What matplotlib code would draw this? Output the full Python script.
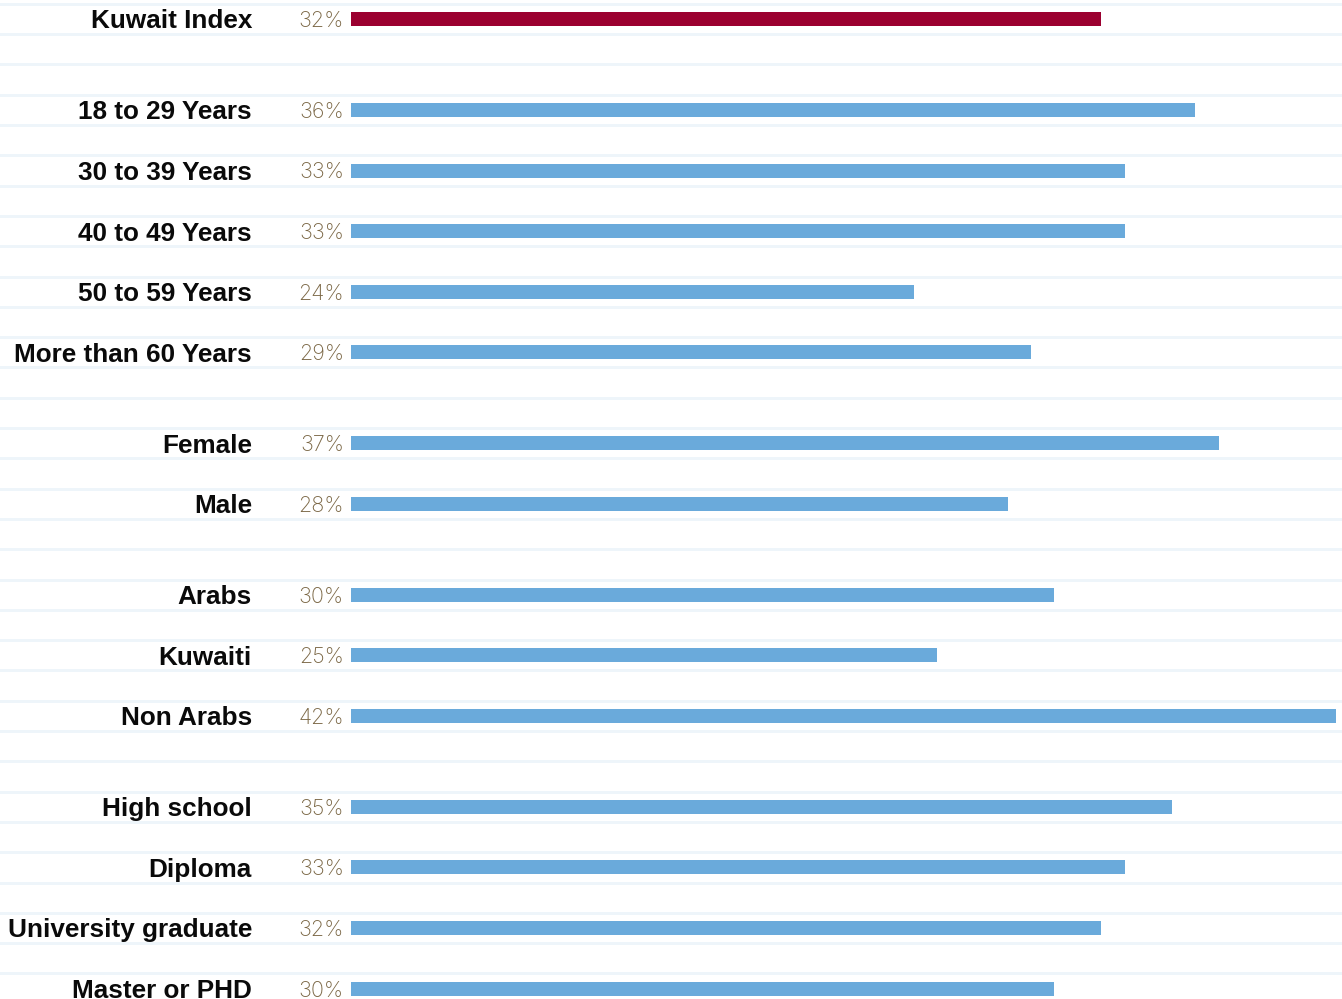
import matplotlib
matplotlib.use("Agg")
import matplotlib.pyplot as plt

# Share of respondents by segment (%)
index_label = ["Kuwait Index"]
index_values = [32]

age_labels = ["18 to 29 Years", "30 to 39 Years", "40 to 49 Years",
              "50 to 59 Years", "More than 60 Years"]
age_values = [36, 33, 33, 24, 29]

gender_labels = ["Female", "Male"]
gender_values = [37, 28]

nationality_labels = ["Arabs", "Kuwaiti", "Non Arabs"]
nationality_values = [30, 25, 42]

education_labels = ["High school", "Diploma", "University graduate", "Master or PHD"]
education_values = [35, 33, 32, 30]

groups = [
    (index_label, index_values),
    (age_labels, age_values),
    (gender_labels, gender_values),
    (nationality_labels, nationality_values),
    (education_labels, education_values),
]

W, H, DPI = 1342, 999, 100
PX_PER_PCT = 23.45      # horizontal scale of the bars
BAR_X0 = 351            # pixel where bars start
ROW_PX = 30.3           # height of one grid slot
TOP_PX = 19             # centre of the first slot

BLUE = "#6aaadb"
RED = "#9b0030"
GRID = "#eef5fa"
PCT_COLOR = "#7a6644"

# lay out the rows: two slots per row, one extra slot-and-a-half between groups
labels, values, slots, colors = [], [], [], []
slot = 0
for gi, (lab, val) in enumerate(groups):
    if gi > 0:
        slot += 3
    for j, (l, v) in enumerate(zip(lab, val)):
        if j > 0:
            slot += 2
        labels.append(l)
        values.append(v)
        slots.append(slot)
        colors.append(RED if gi == 0 else BLUE)

fig = plt.figure(figsize=(W / DPI, H / DPI), dpi=DPI)
ax = fig.add_axes([0, 0, 1, 1])
ax.set_xlim(-BAR_X0 / PX_PER_PCT, (W - BAR_X0) / PX_PER_PCT)
ax.set_ylim((H - TOP_PX) / ROW_PX, -TOP_PX / ROW_PX)
ax.axis("off")

# light separators above and below every slot
for k in range(-1, slots[-1] + 2):
    ax.axhline(k + 0.5, color=GRID, linewidth=3 * 72 / DPI, zorder=0)

ax.barh(slots, values, height=14 / ROW_PX, color=colors, zorder=2)

for l, v, s in zip(labels, values, slots):
    ax.annotate(l, xy=(0, s), xytext=(-99, 0), textcoords="offset pixels",
                ha="right", va="center_baseline", fontsize=18.8,
                fontweight="bold", family="Liberation Sans", color="#0a0a0a")
    ax.annotate(f"{v}%", xy=(0, s), xytext=(-7, 0), textcoords="offset pixels",
                ha="right", va="center_baseline", fontsize=15.5,
                fontweight="light", family="Inter", color=PCT_COLOR)

fig.savefig("out.png", dpi=DPI)
